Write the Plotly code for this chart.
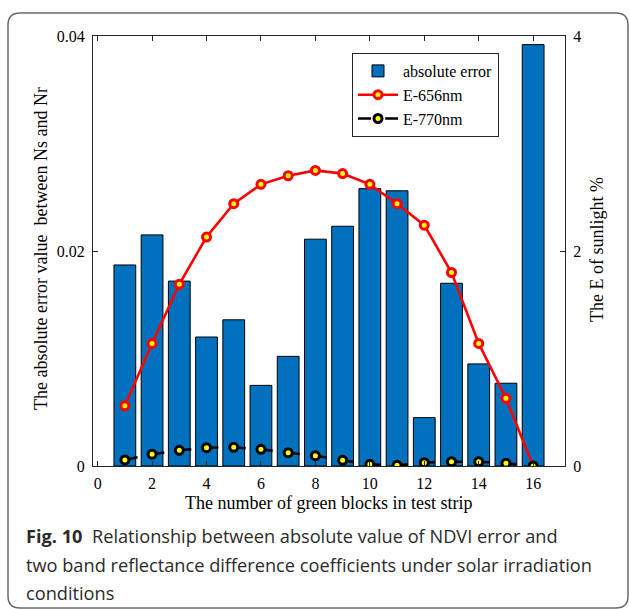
import plotly.graph_objects as go

blocks = list(range(1, 17))
abs_error = [0.0187, 0.0215, 0.0172, 0.0120, 0.0136, 0.0075, 0.0102, 0.0211,
             0.0223, 0.0258, 0.0256, 0.0045, 0.0170, 0.0095, 0.0077, 0.0392]
e656 = [0.56, 1.14, 1.69, 2.13, 2.44, 2.62, 2.70, 2.75,
        2.72, 2.62, 2.44, 2.24, 1.80, 1.14, 0.63, 0.00]
e770 = [0.056, 0.11, 0.146, 0.17, 0.174, 0.155, 0.124, 0.096,
        0.053, 0.016, 0.006, 0.031, 0.04, 0.04, 0.025, 0.0]

x_ticks = [0, 2, 4, 6, 8, 10, 12, 14, 16]
y_left_ticks = [0, 0.02, 0.04]
y_right_ticks = [0, 2, 4]

W, H = 629, 609
L, R, T, B = 93, 64, 36, 143
PW, PH = W - L - R, H - T - B

def px(xp):
    return (xp - L) / PW

def py(yp):
    return (H - B - yp) / PH

serif = "Liberation Serif, Times New Roman, serif"
sans = "Open Sans, Noto Sans, sans-serif"
axcol = "#262626"
tick_size = 16
title_size = 18
cap_size = 18.2

fig = go.Figure()
fig.add_trace(go.Bar(
    x=blocks, y=abs_error, width=0.8, name="absolute error",
    marker=dict(color="#0072BD", line=dict(color="#000000", width=1)),
    yaxis="y"))
fig.add_trace(go.Scatter(
    x=blocks, y=e656, mode="lines+markers", name="E-656nm", yaxis="y2",
    line=dict(color="#FF0000", width=2.6),
    marker=dict(symbol="circle", size=8, color="#FFFF00",
                line=dict(color="#FF0000", width=3))))
fig.add_trace(go.Scatter(
    x=blocks, y=e770, mode="lines+markers", name="E-770nm", yaxis="y2",
    line=dict(color="#000000", width=2.6, dash="13px,14.2px"),
    marker=dict(symbol="circle", size=8, color="#FFFF00",
                line=dict(color="#000000", width=3))))

# rounded frame
x0, x1 = px(8), px(628)
yt, yb = py(13), py(608)
rx, ry = 12 / PW, 12 / PH
path = (f"M {x0+rx},{yt} L {x1-rx},{yt} Q {x1},{yt} {x1},{yt-ry} "
        f"L {x1},{yb+ry} Q {x1},{yb} {x1-rx},{yb} L {x0+rx},{yb} "
        f"Q {x0},{yb} {x0},{yb+ry} L {x0},{yt-ry} Q {x0},{yt} {x0+rx},{yt} Z")
fig.add_shape(type="path", path=path, xref="paper", yref="paper",
              line=dict(color="#6a6a6a", width=1.5), layer="below")

annotations = [
    dict(text="The number of green blocks in test strip", x=px(328), y=py(503),
         xanchor="center", yanchor="middle", font=dict(family=serif, size=title_size, color="#000")),
    dict(text="The absolute error value&nbsp; between Ns and Nr", x=px(41), y=py(249),
         textangle=-90, xanchor="center", yanchor="middle",
         font=dict(family=serif, size=title_size, color="#000")),
    dict(text="The E of sunlight %", x=px(597), y=py(250),
         textangle=-90, xanchor="center", yanchor="middle",
         font=dict(family=serif, size=title_size, color="#000")),
    dict(text="<b>Fig. 10</b>&nbsp; Relationship between absolute value of NDVI error and",
         x=px(24), y=py(536), xanchor="left", yanchor="middle",
         font=dict(family=sans, size=cap_size, color="#2b2b2b")),
    dict(text="two band reflectance difference coefficients under solar irradiation",
         x=px(24), y=py(565), xanchor="left", yanchor="middle",
         font=dict(family=sans, size=cap_size, color="#2b2b2b")),
    dict(text="conditions",
         x=px(24), y=py(593), xanchor="left", yanchor="middle",
         font=dict(family=sans, size=cap_size, color="#2b2b2b")),
]
for a in annotations:
    a.update(xref="paper", yref="paper", showarrow=False)

fig.update_layout(
    width=W, height=H,
    margin=dict(l=L, r=R, t=T, b=B, pad=0),
    paper_bgcolor="white", plot_bgcolor="white",
    showlegend=True,
    legend=dict(x=px(352), y=py(53), xanchor="left", yanchor="top",
                bgcolor="white", bordercolor=axcol, borderwidth=1,
                font=dict(family=serif, size=16, color="#000"),
                itemwidth=40, tracegroupgap=0),
    bargap=0.2,
    xaxis=dict(range=[-0.17, 17.17], tickvals=x_ticks, ticktext=[str(v) for v in x_ticks],
               showline=True, linecolor=axcol, linewidth=1, mirror="ticks",
               ticks="inside", ticklen=5, tickcolor=axcol, showgrid=False, zeroline=False,
               tickfont=dict(family=serif, size=tick_size, color="#000"), ticklabelstandoff=3),
    yaxis=dict(range=[0, 0.04], tickvals=y_left_ticks, ticktext=["0", "0.02", "0.04"],
               showline=True, linecolor=axcol, linewidth=1,
               ticks="inside", ticklen=5, tickcolor=axcol, showgrid=False, zeroline=False,
               tickfont=dict(family=serif, size=tick_size, color="#000"), ticklabelstandoff=4),
    yaxis2=dict(range=[0, 4], tickvals=y_right_ticks, ticktext=["0", "2", "4"],
                overlaying="y", side="right",
                showline=True, linecolor=axcol, linewidth=1,
                ticks="inside", ticklen=5, tickcolor=axcol, showgrid=False, zeroline=False,
                tickfont=dict(family=serif, size=tick_size, color="#000"), ticklabelstandoff=4),
    annotations=annotations,
)

fig.write_html("out.html")
